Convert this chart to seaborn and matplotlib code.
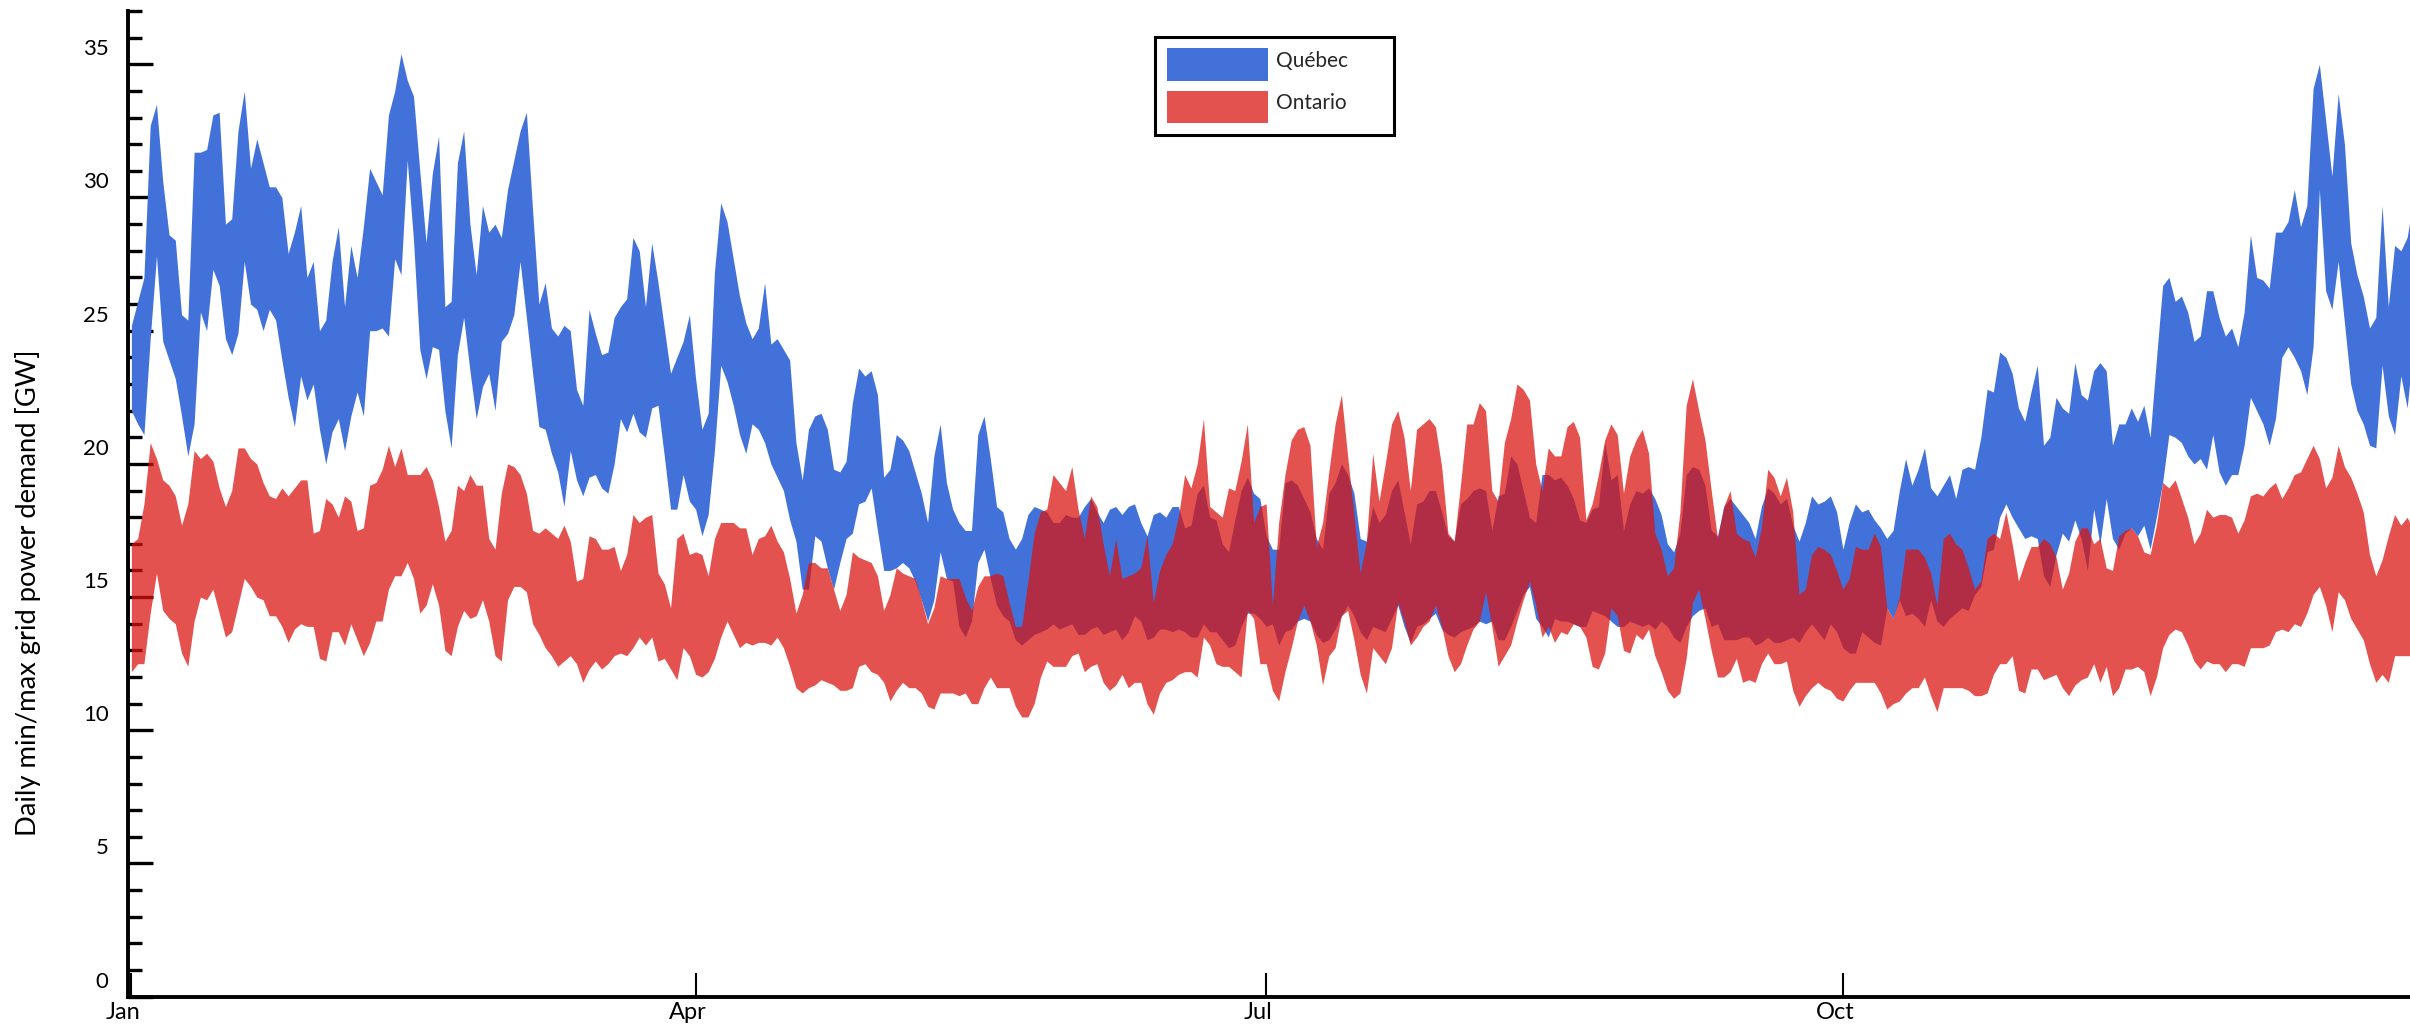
import matplotlib
matplotlib.use("Agg")
import matplotlib.pyplot as plt
import matplotlib.dates as mdates
import matplotlib.ticker as mticker
import matplotlib.transforms as mtransforms
from matplotlib.patches import Patch
import pandas as pd
import seaborn as sns

# ---------------- data (daily min / max grid demand, GW) ----------------
qc_max = [
    25.2, 26.1, 27.0, 32.7, 33.5, 30.6, 28.6, 28.4, 25.6, 25.4,
    31.7, 31.7, 31.8, 33.1, 33.2, 29.0, 29.2, 32.5, 34.0, 31.1,
    32.2, 31.3, 30.4, 30.4, 30.0, 27.9, 28.7, 29.7, 27.0, 27.6,
    25.0, 25.4, 27.6, 28.9, 25.9, 28.2, 27.0, 28.9, 31.1, 30.6,
    30.1, 33.1, 34.0, 35.4, 34.4, 33.8, 31.0, 28.3, 30.9, 32.3,
    25.9, 26.1, 31.3, 32.5, 29.0, 27.1, 29.7, 28.7, 29.0, 28.5,
    30.3, 31.4,
    32.5, 33.2, 29.5, 26.0, 26.8, 25.1, 24.8, 25.2, 25.0, 22.8,
    22.2, 25.8, 24.9, 24.1, 24.2, 25.5, 25.9, 26.2, 28.5, 28.0,
    25.9, 28.3, 26.8, 25.1, 23.4, 24.0, 24.6, 25.6, 23.2, 21.3,
    21.9, 27.2, 29.8, 29.1, 27.7, 26.3, 25.3, 24.7, 25.1, 26.8,
    24.5, 24.7, 24.3, 23.9, 20.8, 19.4, 21.3, 21.8, 21.9, 21.3,
    19.8, 19.7, 20.1, 22.3, 23.6, 23.3, 23.5, 22.6, 19.5, 19.8,
    21.1, 20.9, 20.5, 19.7, 18.9, 17.8, 20.3, 21.5, 19.3, 18.3,
    17.8, 17.5, 17.5, 21.1, 21.8, 20.2, 18.4, 18.2, 17.2, 16.8,
    17.2, 18.1, 18.4, 18.3, 18.2, 17.8, 17.8, 18.1, 18.0, 18.0,
    18.4, 18.7, 18.2, 17.8, 18.3, 18.4, 18.1, 18.4, 18.5, 17.8,
    17.3, 18.1, 18.2, 18.0, 18.4, 18.4, 17.6, 17.7, 18.9, 19.2,
    18.0, 17.9, 17.0, 16.7, 17.9, 19.0, 19.5, 18.9, 18.7, 17.3,
    16.8,
    16.8, 19.3, 19.4, 19.2, 18.7, 18.2, 17.2, 16.8, 18.9, 19.3,
    20.0, 19.6, 18.9, 17.2, 17.1, 18.4, 17.8, 18.1, 19.0, 19.4,
    18.2, 17.0, 18.5, 18.6, 19.0, 19.0, 18.2, 17.3, 17.1, 18.5,
    18.7, 19.0, 19.1, 19.0, 17.5, 18.8, 18.9, 20.3, 20.0, 19.0,
    18.0, 17.8, 19.6, 19.6, 19.4, 19.5, 19.2, 18.7, 17.9, 17.8,
    18.3, 18.4, 20.8, 19.4, 19.6, 17.5, 18.5, 19.0, 18.9, 19.1,
    18.7, 18.1, 17.0, 16.7, 17.4, 19.6, 19.9, 19.8, 19.2, 17.5,
    17.3, 18.4, 18.7, 18.4, 18.1, 17.8, 17.2, 18.4, 19.1, 18.9,
    18.5, 18.7, 17.7, 17.1, 17.8, 18.8, 18.5, 18.6, 18.8, 18.2,
    16.8, 17.8, 18.5, 18.2, 18.3, 17.9, 17.6, 17.2, 17.5, 19.0,
    20.2, 19.2, 19.8, 20.6, 19.1, 18.8, 19.2, 19.6, 18.7, 19.8,
    19.9, 19.8, 21.0, 22.8, 22.7, 24.2, 24.0, 23.4, 22.1, 21.6,
    22.7,
    23.7, 20.7, 21.0, 22.5, 22.1, 21.9, 23.8, 22.6, 22.4, 23.5,
    23.8, 23.5, 20.7, 21.5, 21.5, 22.1, 21.6, 22.2, 21.0, 23.9,
    26.7, 27.0, 26.1, 26.3, 25.7, 24.6, 24.8, 26.5, 26.5, 25.5,
    24.8, 25.1, 24.4, 25.7, 28.6, 27.0, 26.9, 26.6, 28.7, 28.7,
    29.1, 30.3, 28.9, 29.7, 34.1, 35.0, 32.9, 30.8, 33.9, 32.0,
    28.3, 27.1, 26.3, 25.1, 25.5, 29.7, 25.9, 28.2, 28.0, 28.5,
    29.9,
]

qc_min = [
    22.0, 21.5, 21.1, 24.7, 27.8, 24.6, 23.9, 23.2, 21.8, 20.3,
    21.5, 25.7, 25.0, 27.3, 26.7, 24.7, 24.1, 24.9, 27.6, 26.0,
    25.8, 25.0, 25.8, 25.4, 23.9, 22.5, 21.4, 23.3, 22.4, 23.0,
    21.3, 20.0, 21.2, 21.7, 20.5, 21.8, 22.7, 21.8, 25.0, 25.0,
    25.1, 24.8, 27.7, 27.1, 31.4, 28.4, 24.3, 23.2, 24.4, 24.3,
    22.0, 20.6, 24.1, 25.5, 23.5, 21.7, 22.9, 23.4, 22.0, 24.6,
    24.9, 25.6,
    27.6, 25.5, 23.4, 21.4, 21.3, 20.4, 19.7, 18.4, 20.5, 19.4,
    18.8, 19.5, 19.6, 19.1, 18.9, 20.0, 21.7, 21.2, 21.9, 21.2,
    21.0, 22.1, 22.2, 20.3, 18.3, 18.3, 19.6, 18.6, 18.3, 17.3,
    18.1, 20.5, 23.7, 23.1, 22.2, 21.1, 20.4, 21.5, 21.3, 20.8,
    20.0, 19.5, 19.0, 17.9, 17.1, 15.3, 15.3, 17.3, 17.1, 16.1,
    15.3, 16.3, 17.2, 17.4, 18.5, 18.6, 19.1, 17.5, 16.0, 16.0,
    16.1, 16.3, 16.1, 15.6, 14.9, 14.1, 14.9, 16.7, 15.7, 15.6,
    13.9, 13.5, 14.1, 16.3, 16.8, 15.7, 14.7, 14.3, 14.1, 13.4,
    13.2, 13.4, 13.6, 13.7, 13.8, 14.0, 13.8, 13.9, 14.0, 13.6,
    13.6, 13.8, 13.9, 13.6, 13.7, 13.8, 13.4, 13.7, 14.3, 14.1,
    13.4, 13.5, 13.8, 13.8, 13.7, 13.8, 13.7, 13.5, 13.5, 14.0,
    13.7, 13.7, 13.4, 13.1, 13.2, 13.9, 14.4, 14.4, 14.2, 13.9,
    14.0,
    13.2, 13.7, 13.8, 14.1, 14.2, 14.1, 13.6, 13.3, 13.4, 13.8,
    14.3, 14.7, 14.3, 13.7, 13.4, 13.9, 13.8, 13.7, 14.2, 14.7,
    13.9, 13.3, 13.9, 14.0, 14.2, 14.4, 13.8, 13.6, 13.5, 13.7,
    13.8, 13.9, 14.1, 14.0, 14.1, 13.4, 13.4, 13.9, 14.5, 15.1,
    15.4, 14.2, 13.9, 13.5, 14.2, 14.1, 14.1, 14.0, 13.9, 13.9,
    14.5, 14.4, 14.3, 14.1, 13.9, 13.9, 14.1, 14.0, 13.9, 14.0,
    13.8, 14.1, 13.9, 13.5, 13.3, 13.9, 14.3, 14.5, 14.6, 13.9,
    14.0, 13.4, 13.4, 13.4, 13.5, 13.5, 13.2, 13.3, 13.5, 13.3,
    13.3, 13.4, 13.5, 13.3, 13.7, 14.0, 13.7, 13.4, 14.0, 13.7,
    13.1, 12.9, 12.9, 13.7, 13.5, 13.3, 13.2, 14.6, 14.2, 14.9,
    14.3, 14.4, 14.2, 13.9, 14.9, 14.1, 13.9, 14.2, 14.4, 14.6,
    14.5, 15.1, 15.4, 16.7, 16.8, 18.0, 18.5, 18.0, 17.6, 17.2,
    17.3,
    17.2, 15.8, 15.4, 16.6, 17.4, 17.1, 17.9, 17.2, 16.0, 18.3,
    17.0, 18.7, 17.2, 16.8, 17.4, 17.6, 17.3, 17.7, 16.8, 18.0,
    19.3, 21.1, 21.0, 20.8, 20.3, 20.0, 20.2, 19.8, 21.1, 19.7,
    19.2, 19.6, 19.6, 20.7, 22.5, 22.0, 21.5, 20.7, 21.7, 24.0,
    24.4, 24.0, 23.5, 22.6, 24.4, 30.3, 26.5, 25.8, 27.6, 25.3,
    23.0, 22.0, 21.5, 20.7, 20.6, 23.7, 21.8, 21.1, 23.3, 22.1,
    24.4,
]

on_max = [
    17.0, 17.2, 18.5, 20.8, 20.2, 19.4, 19.2, 18.8, 17.7, 18.5,
    20.5, 20.2, 20.4, 20.1, 19.1, 18.4, 19.0, 20.6, 20.6, 20.2,
    20.0, 19.3, 18.8, 18.7, 19.1, 18.8, 19.1, 19.4, 19.4, 17.4,
    17.5, 18.7, 18.5, 18.0, 18.8, 18.6, 17.5, 17.6, 19.2, 19.3,
    19.8, 20.7, 19.9, 20.6, 19.6, 19.6, 19.6, 19.9, 19.4, 18.4,
    17.1, 17.5, 19.2, 19.0, 19.6, 19.2, 19.2, 17.2, 16.8, 18.9,
    20.0, 19.9,
    19.6, 18.9, 17.5, 17.4, 17.6, 17.4, 17.2, 17.7, 17.1, 15.6,
    15.7, 17.3, 17.2, 16.8, 16.8, 16.9, 16.0, 16.6, 18.1, 17.8,
    18.0, 18.1, 15.9, 15.5, 14.6, 17.2, 17.4, 16.6, 16.7, 16.6,
    15.8, 17.2, 17.8, 17.8, 17.8, 17.6, 17.6, 16.6, 17.2, 17.3,
    17.7, 17.1, 16.7, 15.7, 14.4, 15.1, 16.3, 16.3, 16.1, 16.1,
    15.3, 14.5, 15.1, 16.7, 16.5, 16.4, 16.3, 15.8, 14.5, 15.1,
    16.1, 15.9, 15.8, 15.7, 14.9, 14.0, 14.6, 15.8, 15.7, 15.7,
    15.7, 15.0, 14.5, 15.4, 15.8, 15.8, 15.9, 15.8, 14.8, 13.9,
    13.9, 15.6, 17.4, 18.2, 18.3, 19.6, 19.3, 19.0, 19.9, 18.3,
    17.2, 18.8, 18.4, 17.0, 15.8, 17.2, 15.7, 15.8, 15.9, 16.1,
    17.3, 14.8, 16.0, 16.6, 17.0, 18.0, 19.6, 19.1, 20.0, 21.7,
    18.4, 18.2, 18.0, 19.1, 19.0, 20.1, 21.5, 17.8, 18.4, 18.5,
    14.7,
    17.8, 19.6, 20.9, 21.3, 21.4, 20.7, 16.9, 17.8, 19.7, 21.5,
    22.6, 20.3, 18.1, 15.9, 17.1, 20.4, 18.6, 20.0, 21.5, 22.0,
    21.0, 19.0, 21.3, 21.5, 21.7, 21.4, 19.9, 17.4, 17.1, 19.2,
    21.5, 21.5, 22.3, 22.0, 19.0, 18.6, 20.8, 21.7, 23.0, 22.8,
    22.4, 20.0, 19.0, 20.6, 20.3, 20.3, 21.4, 21.6, 21.0, 17.9,
    18.5, 19.6, 20.9, 21.5, 21.1, 18.9, 20.3, 20.9, 21.3, 20.4,
    17.4, 16.8, 15.8, 16.1, 18.2, 22.2, 23.2, 22.0, 20.9, 19.0,
    17.2, 18.4, 19.0, 17.4, 17.2, 17.1, 16.5, 17.6, 19.8, 19.5,
    18.8, 19.5, 18.2, 15.1, 15.3, 16.6, 16.9, 16.8, 16.6, 16.0,
    15.3, 15.7, 16.9, 16.8, 16.8, 17.4, 16.9, 14.6, 14.2, 15.0,
    16.8, 16.8, 16.8, 16.5, 15.9, 14.7, 17.2, 17.4, 17.0, 16.8,
    16.1, 15.3, 15.6, 17.2, 17.4, 17.2, 18.2, 17.0, 15.6, 16.3,
    16.9,
    16.9, 17.2, 17.0, 16.5, 15.3, 15.9, 17.1, 17.6, 17.6, 17.0,
    17.2, 16.1, 16.0, 17.3, 17.5, 17.6, 17.3, 16.7, 16.6, 17.7,
    19.3, 19.1, 19.4, 18.7, 18.0, 17.0, 17.4, 18.3, 18.0, 18.1,
    18.1, 18.0, 17.4, 17.9, 18.8, 18.9, 18.8, 19.1, 19.3, 18.7,
    19.1, 19.6, 19.7, 20.2, 20.7, 20.2, 19.1, 19.5, 20.7, 19.9,
    19.5, 18.9, 18.2, 16.6, 15.8, 16.4, 17.3, 18.1, 17.7, 18.0,
    17.5,
]

on_min = [
    12.2, 12.5, 12.5, 14.4, 15.9, 14.5, 14.2, 14.0, 12.9, 12.4,
    14.1, 15.0, 14.9, 15.3, 14.4, 13.5, 13.7, 14.7, 15.7, 15.4,
    15.0, 14.9, 14.3, 14.3, 13.9, 13.3, 13.8, 14.0, 13.9, 13.9,
    12.7, 12.6, 13.7, 13.7, 13.2, 14.0, 13.4, 12.8, 13.3, 14.1,
    14.1, 15.3, 15.8, 15.8, 16.3, 15.7, 14.4, 14.7, 15.5, 14.7,
    13.0, 12.8, 13.9, 14.5, 14.2, 14.3, 14.9, 14.1, 12.8, 12.6,
    14.9, 15.4,
    15.4, 15.2, 14.0, 13.6, 13.1, 12.8, 12.4, 12.6, 12.8, 12.5,
    11.8, 12.3, 12.6, 12.3, 12.5, 12.8, 12.9, 12.8, 13.1, 13.5,
    13.2, 13.5, 12.6, 12.7, 12.3, 11.9, 13.1, 12.8, 12.1, 12.0,
    12.2, 12.7, 13.5, 14.1, 13.6, 13.1, 13.3, 13.2, 13.3, 13.3,
    13.2, 13.5, 13.1, 12.4, 11.6, 11.4, 11.6, 11.7, 11.9, 11.8,
    11.7, 11.5, 11.5, 11.6, 12.4, 12.5, 12.2, 12.1, 11.8, 11.1,
    11.5, 11.8, 11.6, 11.6, 11.4, 10.9, 10.8, 11.4, 11.4, 11.4,
    11.3, 11.4, 11.0, 11.0, 11.6, 12.0, 11.6, 11.6, 11.6, 10.9,
    10.5, 10.5, 11.0, 12.0, 12.6, 12.4, 12.4, 12.4, 12.8, 12.9,
    12.2, 12.4, 12.5, 11.8, 11.5, 11.7, 12.1, 11.6, 11.8, 11.8,
    11.0, 10.6, 11.4, 11.8, 11.9, 12.1, 12.2, 12.2, 12.0, 13.5,
    13.2, 12.5, 12.4, 12.4, 12.2, 12.0, 14.5, 14.2, 12.5, 12.5,
    11.5,
    11.1, 12.2, 13.1, 14.1, 14.7, 14.1, 13.2, 11.7, 12.8, 13.1,
    14.3, 14.5, 13.4, 12.1, 11.4, 13.1, 12.8, 12.5, 13.1, 14.8,
    14.1, 13.2, 13.5, 13.9, 14.1, 14.7, 13.9, 12.8, 12.2, 12.5,
    13.2, 13.8, 14.1, 15.2, 13.9, 12.4, 12.8, 13.2, 14.1, 14.9,
    15.6, 14.7, 13.5, 13.9, 13.3, 13.7, 13.6, 14.0, 13.9, 13.5,
    12.4, 12.3, 12.9, 14.6, 14.3, 13.0, 12.9, 13.6, 13.4, 13.8,
    12.8, 12.2, 11.5, 11.2, 11.4, 12.7, 14.8, 15.3, 14.2, 13.0,
    12.0, 12.0, 12.2, 12.7, 11.8, 11.9, 11.8, 12.5, 12.9, 12.5,
    12.5, 12.6, 11.5, 10.9, 11.3, 11.6, 11.8, 11.6, 11.5, 11.2,
    11.1, 11.5, 11.8, 11.8, 11.8, 11.8, 11.4, 10.8, 11.0, 11.1,
    11.4, 11.6, 11.6, 12.0, 11.3, 10.7, 11.6, 11.6, 11.6, 11.6,
    11.5, 11.3, 11.3, 11.4, 12.1, 12.5, 12.5, 12.8, 11.5, 11.4,
    12.3,
    12.3, 11.9, 12.0, 12.1, 11.6, 11.3, 11.7, 11.9, 12.0, 12.5,
    11.8, 12.4, 11.3, 11.6, 12.3, 12.3, 12.4, 12.2, 11.3, 12.0,
    13.1, 13.6, 13.8, 13.7, 13.2, 12.6, 12.3, 12.6, 12.5, 12.5,
    12.2, 12.5, 12.5, 12.4, 13.1, 13.1, 13.1, 13.2, 13.7, 13.8,
    13.7, 14.0, 13.9, 14.4, 15.1, 15.4, 14.7, 13.7, 15.2, 14.9,
    14.2, 13.8, 13.4, 12.5, 11.8, 12.1, 11.8, 12.8, 12.8, 12.8,
    12.8,
]

series_labels = ["Québec", "Ontario"]
month_ticks = ["2019-01-01", "2019-04-01", "2019-07-01", "2019-10-01"]
y_major = [0, 5, 10, 15, 20, 25, 30, 35]
y_label = "Daily min/max grid power demand [GW]"

# ---------------- styling ----------------
sns.set_theme(style="white")
plt.rcParams["font.family"] = ["Lato", "DejaVu Sans"]

QC_COLOR = "#4272D9"
ON_COLOR = (219 / 255, 18 / 255, 14 / 255)
ON_ALPHA = 0.73

df = pd.DataFrame({
    "date": pd.date_range("2019-01-01", periods=len(qc_max), freq="D"),
    "qc_min": qc_min, "qc_max": qc_max,
    "on_min": on_min, "on_max": on_max,
})

W, H = 2410, 1033
fig = plt.figure(figsize=(W / 100, H / 100), dpi=100)
ax = fig.add_axes([128 / W, 36.3 / H, (W - 128) / W, 985.7 / H])

ax.fill_between(df["date"], df["qc_min"], df["qc_max"], color=QC_COLOR,
                linewidth=0, label=series_labels[0])
ax.fill_between(df["date"], df["on_min"], df["on_max"], color=ON_COLOR,
                alpha=ON_ALPHA, linewidth=0, label=series_labels[1])

start = df["date"].iloc[0]
ax.set_xlim(start - pd.Timedelta(hours=13), start + pd.Timedelta(days=363, hours=11))
ax.set_ylim(0, 37)

ax.set_xticks(pd.to_datetime(month_ticks))
ax.xaxis.set_major_formatter(mdates.DateFormatter("%b"))
ax.set_yticks(y_major)
ax.yaxis.set_minor_locator(mticker.MultipleLocator(1))

for s in ["top", "right"]:
    ax.spines[s].set_visible(False)
for s in ["left", "bottom"]:
    ax.spines[s].set_color("black")
    ax.spines[s].set_linewidth(2.8)

ax.tick_params(axis="y", which="major", left=True, direction="in", length=18,
               width=2.4, pad=14, labelsize=16, color="black", labelcolor="black")
ax.tick_params(axis="y", which="minor", left=True, direction="in", length=10,
               width=2.4, color="black")
ax.tick_params(axis="x", which="major", bottom=True, direction="in", length=17,
               width=1.5, pad=4, labelsize=17, color="black", labelcolor="black")
ax.tick_params(axis="x", which="minor", bottom=False)

# labels in the original sit slightly off their ticks
off_y = mtransforms.ScaledTranslation(0, 0.17, fig.dpi_scale_trans)
for lab in ax.get_yticklabels():
    lab.set_transform(lab.get_transform() + off_y)
off_x = mtransforms.ScaledTranslation(-0.08, 0, fig.dpi_scale_trans)
for lab in ax.get_xticklabels():
    lab.set_transform(lab.get_transform() + off_x)

ax.set_ylabel(y_label, fontsize=19.7, color="black")
ax.yaxis.set_label_coords(-0.038, 0.41)

handles = [
    Patch(facecolor=QC_COLOR, edgecolor="none", label=series_labels[0]),
    Patch(facecolor=ON_COLOR, alpha=ON_ALPHA, edgecolor="none", label=series_labels[1]),
]
leg = ax.legend(handles=handles, loc="upper left",
                bbox_to_anchor=(0.4502, 0.8742, 0.1044, 0.0995), mode="expand",
                fontsize=15, handlelength=4.85, handleheight=2.0,
                handletextpad=0.38, labelspacing=0.5, borderpad=0.55,
                borderaxespad=0, frameon=True, fancybox=False, framealpha=1,
                edgecolor="black")
leg.get_frame().set_linewidth(2.2)
off_leg = mtransforms.ScaledTranslation(0, 0.045, fig.dpi_scale_trans)
for t in leg.get_texts():
    t.set_transform(t.get_transform() + off_leg)

fig.savefig("out.png", dpi=100)
